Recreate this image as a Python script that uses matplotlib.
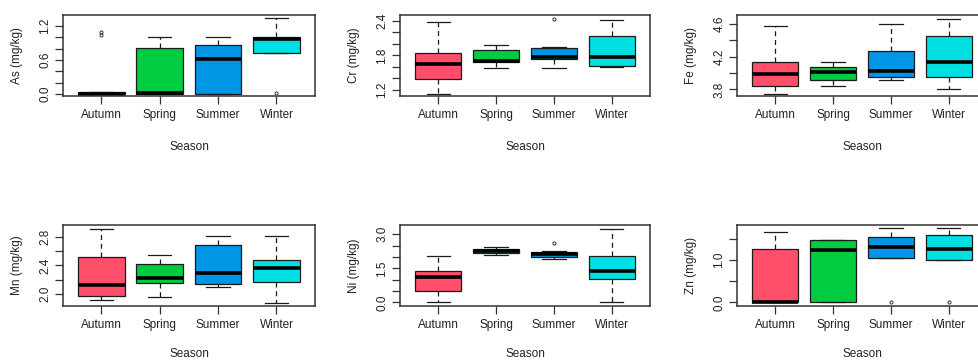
import matplotlib
matplotlib.use("Agg")
import matplotlib.pyplot as plt

plt.rcParams['font.family'] = ['Liberation Sans', 'DejaVu Sans']

seasons = ["Autumn", "Spring", "Summer", "Winter"]
colors = ["#FF4F6B", "#00CC40", "#0096E6", "#00E0E2"]

# per element: whisker low, q1, median, q3, whisker high, outliers (per season)
as_low = [0.0, 0.0, 0.0, 0.73]
as_q1 = [0.0, 0.0, 0.0, 0.73]
as_med = [0.0, 0.01, 0.61, 0.97]
as_q3 = [0.03, 0.81, 0.865, 1.0]
as_high = [0.03, 1.005, 1.0, 1.335]
as_out = [[1.03, 1.09], [], [], [0.01]]

cr_low = [1.137, 1.575, 1.575, 1.60]
cr_q1 = [1.396, 1.69, 1.745, 1.61]
cr_med = [1.655, 1.71, 1.77, 1.77]
cr_q3 = [1.846, 1.90, 1.92, 2.13]
cr_high = [2.377, 1.98, 1.94, 2.42]
cr_out = [[], [], [2.43], []]

fe_low = [3.743, 3.84, 3.91, 3.81]
fe_q1 = [3.84, 3.92, 3.95, 3.95]
fe_med = [3.985, 4.015, 4.03, 4.13]
fe_q3 = [4.135, 4.08, 4.27, 4.45]
fe_high = [4.575, 4.135, 4.60, 4.665]
fe_out = [[], [], [], []]

mn_low = [1.91, 1.953, 2.093, 1.88]
mn_q1 = [1.97, 2.153, 2.144, 2.163]
mn_med = [2.13, 2.228, 2.30, 2.37]
mn_q3 = [2.52, 2.42, 2.68, 2.48]
mn_high = [2.91, 2.545, 2.81, 2.81]
mn_out = [[], [], [], []]

ni_low = [0.0, 2.09, 1.90, 0.0]
ni_q1 = [0.485, 2.19, 2.0, 1.01]
ni_med = [1.117, 2.26, 2.13, 1.37]
ni_q3 = [1.37, 2.34, 2.24, 2.03]
ni_high = [2.03, 2.43, 2.28, 3.25]
ni_out = [[], [], [2.63], []]

zn_low = [0.0, 0.0, 1.04, 0.99]
zn_q1 = [0.0, 0.0, 1.04, 0.99]
zn_med = [0.0, 1.23, 1.32, 1.26]
zn_q3 = [1.26, 1.47, 1.55, 1.60]
zn_high = [1.675, 1.47, 1.75, 1.75]
zn_out = [[], [], [0.0], [0.0]]

panels = [
    ("As (mg/kg)", as_low, as_q1, as_med, as_q3, as_high, as_out,
     [0.0, 0.2, 0.4, 0.6, 0.8, 1.0, 1.2], ["0.0", "", "", "0.6", "", "", "1.2"], (-0.035, 1.39)),
    ("Cr (mg/kg)", cr_low, cr_q1, cr_med, cr_q3, cr_high, cr_out,
     [1.2, 1.4, 1.6, 1.8, 2.0, 2.2, 2.4], ["1.2", "", "", "1.8", "", "", "2.4"], (1.096, 2.498)),
    ("Fe (mg/kg)", fe_low, fe_q1, fe_med, fe_q3, fe_high, fe_out,
     [3.8, 4.0, 4.2, 4.4, 4.6], ["3.8", "", "4.2", "", "4.6"], (3.72, 4.71)),
    ("Mn (mg/kg)", mn_low, mn_q1, mn_med, mn_q3, mn_high, mn_out,
     [2.0, 2.2, 2.4, 2.6, 2.8], ["2.0", "", "2.4", "", "2.8"], (1.833, 2.963)),
    ("Ni (mg/kg)", ni_low, ni_q1, ni_med, ni_q3, ni_high, ni_out,
     [0.0, 0.5, 1.0, 1.5, 2.0, 2.5, 3.0], ["0.0", "", "", "1.5", "", "", "3.0"], (-0.16, 3.41)),
    ("Zn (mg/kg)", zn_low, zn_q1, zn_med, zn_q3, zn_high, zn_out,
     [0.0, 0.5, 1.0, 1.5], ["0.0", "", "1.0", ""], (-0.087, 1.83)),
]

W, H = 979, 361
fig = plt.figure(figsize=(W / 100, H / 100), dpi=100)

col_x = [(63, 252), (400, 250), (737, 250)]
row_y = [(15, 96), (225, 306)]
xlabel_off = [51, 48]

text_color = "#222222"
frame_color = "#333333"

for i, (ylabel, lo, q1, med, q3, hi, out, yt, ytl, ylim) in enumerate(panels):
    r, c = divmod(i, 3)
    x0, w = col_x[c]
    top, bot = row_y[r]
    ax = fig.add_axes([x0 / W, 1 - bot / H, w / W, (bot - top) / H])
    stats = []
    for k in range(4):
        stats.append(dict(whislo=lo[k], q1=q1[k], med=med[k], q3=q3[k],
                          whishi=hi[k], fliers=out[k], label=seasons[k]))
    bp = ax.bxp(stats, positions=[1, 2, 3, 4], widths=0.8, patch_artist=True,
                showfliers=True, capwidths=0.4,
                boxprops=dict(linewidth=0.9, edgecolor="#1a1a1a"),
                medianprops=dict(color="black", linewidth=2.6, solid_capstyle="butt"),
                whiskerprops=dict(color="#1a1a1a", linewidth=0.9, linestyle=(0, (4, 3))),
                capprops=dict(color="#1a1a1a", linewidth=0.9),
                flierprops=dict(marker="o", markersize=2.2, markerfacecolor="none",
                                markeredgecolor="#333333", markeredgewidth=0.7))
    for patch, col in zip(bp["boxes"], colors):
        patch.set_facecolor(col)
    ax.set_xlim(0.34, 4.66)
    ax.set_ylim(*ylim)
    ax.set_yticks(yt)
    ax.set_yticklabels(ytl, rotation=90, va="center", color=text_color, fontsize=8.5)
    ax.set_xticks([1, 2, 3, 4])
    ax.set_xticklabels(seasons, color=text_color, fontsize=8.5)
    ax.tick_params(axis="both", length=5.5, width=0.9, color=frame_color)
    ax.tick_params(axis="x", pad=4)
    ax.tick_params(axis="y", pad=3)
    for s in ax.spines.values():
        s.set_color(frame_color)
        s.set_linewidth(1.1)
    ax.set_ylabel(ylabel, fontsize=8.5, color=text_color, va="center")
    ax.yaxis.set_label_coords(-46 / w, 0.5)
    ax.set_xlabel("Season", fontsize=8.5, color=text_color, va="center")
    ax.xaxis.set_label_coords(0.5, -xlabel_off[r] / (bot - top))

fig.savefig("out.png", dpi=100)
